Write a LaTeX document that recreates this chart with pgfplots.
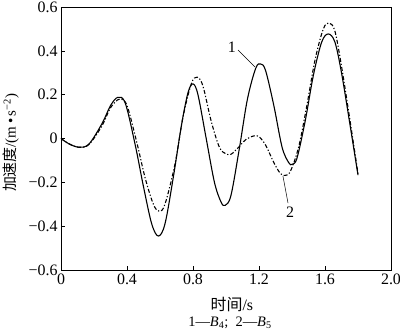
\documentclass[border=0pt]{standalone}
\usepackage{fontspec}
\setmainfont{Liberation Serif}
\newfontfamily\cjk{Noto Sans CJK SC}
\usepackage{pgfplots}
\pgfplotsset{compat=1.18}
\begin{document}
\begin{tikzpicture}
\useasboundingbox (-61bp,-63bp) rectangle (339bp,270bp);
\begin{axis}[
  scale only axis, width=330bp, height=263bp,
  at={(0,0)}, anchor=south west,
  xmin=0, xmax=2, ymin=-0.6, ymax=0.6,
  tick align=inside, xtick pos=left, ytick pos=left,
  major tick length=4bp,
  xtick={0,0.4,0.8,1.2,1.6,2.0},
  xticklabels={0,0.4,0.8,1.2,1.6,2.0},
  ytick={-0.6,-0.4,-0.2,0,0.2,0.4,0.6},
  yticklabels={−0.6,−0.4,−0.2,0,0.2,0.4,0.6},
  tick label style={font=\fontsize{16}{18}\selectfont},
  axis line style={line width=0.8pt},
  every tick/.style={line width=0.6pt, black},
  clip=false,
]
\addplot[black, line width=1.1pt, smooth, tension=0.55] coordinates {
(0,0) (0.05,-0.025) (0.11,-0.04) (0.17,-0.025) (0.25,0.07) (0.30,0.15) (0.345,0.188) (0.39,0.16) (0.45,-0.03) (0.5,-0.22) (0.55,-0.39) (0.59,-0.445) (0.63,-0.39) (0.68,-0.18) (0.73,0.06) (0.77,0.21) (0.80,0.249) (0.83,0.20) (0.88,0.0) (0.93,-0.2) (0.97,-0.29) (0.995,-0.305) (1.03,-0.26) (1.08,-0.05) (1.13,0.18) (1.18,0.32) (1.21,0.34) (1.24,0.31) (1.29,0.15) (1.34,-0.04) (1.38,-0.11) (1.40,-0.118) (1.43,-0.09) (1.48,0.08) (1.53,0.29) (1.58,0.44) (1.62,0.477) (1.66,0.44) (1.70,0.30) (1.75,0.07) (1.80,-0.167)
};
\addplot[black, line width=1.1pt, smooth, tension=0.55, dash pattern=on 4pt off 2pt on 1.2pt off 2pt] coordinates {
(0,0) (0.05,-0.025) (0.11,-0.04) (0.17,-0.027) (0.25,0.06) (0.30,0.14) (0.355,0.18) (0.40,0.15) (0.46,-0.02) (0.51,-0.18) (0.56,-0.3) (0.595,-0.332) (0.63,-0.3) (0.69,-0.12) (0.74,0.1) (0.79,0.25) (0.825,0.28) (0.86,0.24) (0.91,0.08) (0.96,-0.04) (1.0,-0.07) (1.03,-0.072) (1.07,-0.045) (1.12,-0.005) (1.17,0.012) (1.2,0.008) (1.24,-0.03) (1.29,-0.11) (1.33,-0.16) (1.36,-0.168) (1.39,-0.15) (1.44,-0.04) (1.49,0.15) (1.54,0.36) (1.59,0.5) (1.625,0.527) (1.66,0.49) (1.70,0.33) (1.75,0.09) (1.80,-0.16)
};
\draw[line width=0.5pt] (axis cs:1.073,0.404) -- (axis cs:1.176,0.326);
\node[font=\fontsize{16}{18}\selectfont] at (axis cs:1.036,0.418) {1};
\draw[line width=0.5pt] (axis cs:1.376,-0.295) -- (axis cs:1.345,-0.171);
\node[font=\fontsize{16}{18}\selectfont] at (axis cs:1.388,-0.336) {2};
\node[font=\fontsize{16}{18}\selectfont] at ([yshift=-34bp]axis cs:1.036,-0.6) {{\cjk 时间}/s};
\node[font=\fontsize{14.5}{16}\selectfont] at ([yshift=-53bp]axis cs:1.024,-0.6) {1—\textit{B}\textsubscript{4};\ \ 2—\textit{B}\textsubscript{5}};
\node[font=\fontsize{15}{17}\selectfont, rotate=90] at ([xshift=-50bp]axis cs:0,-0.02) {{\cjk 加速度}/(m\,•\,s\textsuperscript{−2})};
\end{axis}
\end{tikzpicture}
\end{document}
